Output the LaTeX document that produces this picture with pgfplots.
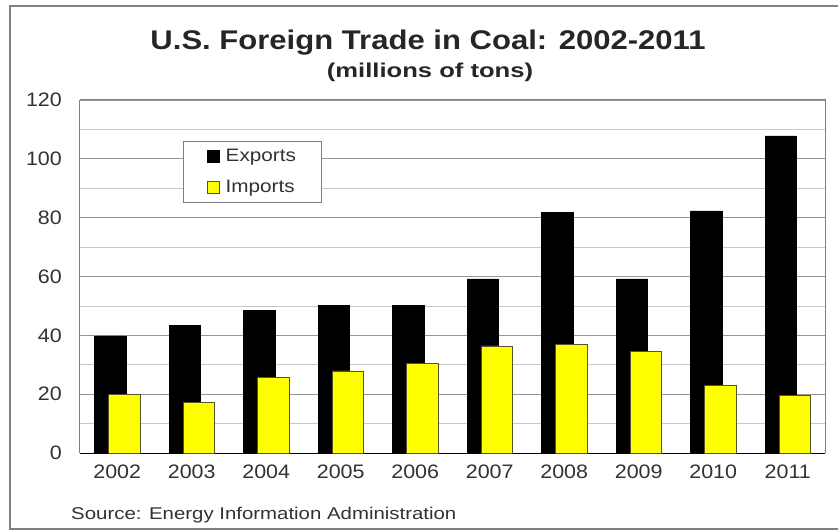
\documentclass[border=0pt]{standalone}
\usepackage{pgfplots}
\pgfplotsset{compat=1.18}
\usepackage{fontspec}
\setmainfont{Liberation Sans}

% values in millions of tons
\pgfplotstableread{
x year exports imports
0 2002 39.8 19.8
1 2003 43.5 17.1
2 2004 48.6 25.6
3 2005 50.2 27.9
4 2006 50.2 30.5
5 2007 59.2 36.4
6 2008 81.7 36.8
7 2009 59.2 34.5
8 2010 82.3 23.1
9 2011 107.8 19.5
}\coaldata

\definecolor{gridmaj}{RGB}{150,150,150}
\definecolor{gridmin}{RGB}{200,200,200}
\definecolor{impyellow}{RGB}{255,255,0}
\definecolor{labgray}{RGB}{50,50,50}

\begin{document}
\begin{tikzpicture}[x=1pt,y=1pt]
\useasboundingbox (0,0) rectangle (838,531);
\draw[gray,line width=1.5pt] (838,525) -- (10,525) -- (10,2) -- (838,2);
\node[font=\bfseries\fontsize{27}{30}\selectfont,text=black!85,xscale=1.15] at (428,488) {U.S. Foreign Trade in Coal: 2002-2011};
\node[font=\bfseries\fontsize{20}{23}\selectfont,text=black!85,xscale=1.28] at (430,459) {(millions of tons)};
\node[anchor=west,font=\fontsize{17}{20}\selectfont,text=labgray,xscale=1.2] at (67,16) {Source: Energy Information Administration};
\begin{axis}[
    at={(80pt,78pt)}, anchor=south west,
    scale only axis,
    width=745pt, height=353pt,
    ybar, bar width=0.42,
    xmin=-0.5, xmax=9.5,
    ymin=0, ymax=120,
    xtick=data,
    xticklabels={2002,2003,2004,2005,2006,2007,2008,2009,2010,2011},
    ytick={0,20,...,120},
    minor y tick num=1,
    ymajorgrids, yminorgrids,
    major grid style={gridmaj,line width=0.9pt},
    minor grid style={gridmin,line width=0.8pt},
    major tick length=0pt, minor tick length=0pt,
    axis line style={gray,line width=1pt},
    axis x line*=bottom,
    x axis line style={black,line width=1pt,-},
    separate axis lines,
    tick label style={font=\fontsize{19.5}{22}\selectfont,text=labgray,xscale=1.1},
    /pgf/number format/assume math mode=true,
    yticklabel style={xshift=-13pt},
    xticklabel style={yshift=-8pt},
    legend style={at={(0.138,0.884)}, anchor=north west,
        draw=gray, line width=0.8pt,
        font=\fontsize{18}{21}\selectfont, text=labgray,
        inner xsep=24pt, inner ysep=6pt, row sep=13pt},
    legend cell align=left,
    legend image code/.code={\draw[#1,line width=0.5pt] (0pt,-6pt) rectangle (12pt,6pt);},
]
\addplot[fill=black, draw=black, bar shift=-0.095] table[x=x,y=exports] {\coaldata};
\addplot[fill=impyellow, draw=black!50!olive, line width=0.6pt, bar shift=0.095] table[x=x,y=imports] {\coaldata};
\legend{\hspace*{4pt}\scalebox{1.15}[1]{Exports}, \hspace*{4pt}\scalebox{1.15}[1]{Imports}}
\end{axis}
\draw[gray,line width=1pt] (80,431) -- (825,431) -- (825,78);
\end{tikzpicture}
\end{document}
